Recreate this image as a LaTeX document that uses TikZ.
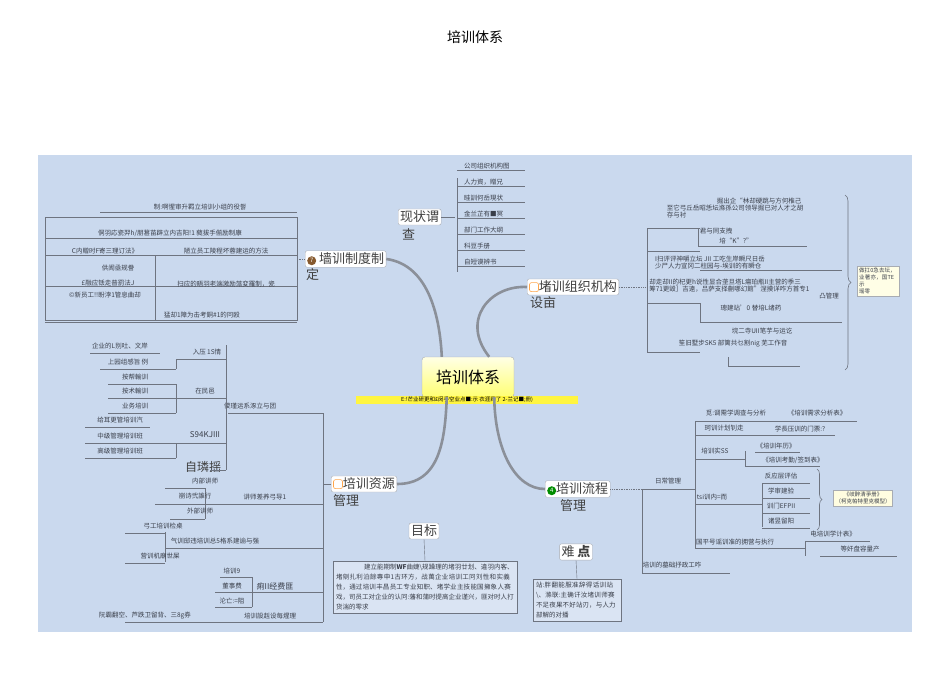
\documentclass[tikz,border=0pt]{standalone}
\usepackage{fontspec}
\setmainfont{Noto Sans CJK SC}
\XeTeXlinebreaklocale "zh"
\XeTeXlinebreakskip=0pt plus 1pt
\usetikzlibrary{decorations.pathreplacing}
\definecolor{bg}{HTML}{CAD9EE}
\definecolor{ln}{HTML}{6E7480}
\definecolor{tx}{HTML}{3A3F4A}
\tikzset{
 lf/.style={font=\fontsize{6.5}{7}\selectfont,text=tx,inner sep=1pt},
 big/.style={draw=ln!60,fill=white,rounded corners=2pt,font=\fontsize{13}{14}\selectfont,text=black!75,inner sep=2pt},
 tail/.style={font=\fontsize{13}{14}\selectfont,text=black!75,anchor=north west,inner sep=0pt},
 br/.style={line width=2.6pt,draw=ln!80},
 tl/.style={draw=ln,line width=0.7pt},
 sq/.style={draw=orange!70,line width=0.6pt}
}
\newcommand{\numdot}[2]{\tikz[baseline=-3pt]\node[circle,fill=#1,text=white,inner sep=0.5pt,minimum size=9pt,font=\fontsize{6}{6}\selectfont]{#2};}
\begin{document}
\begin{tikzpicture}[x=1pt,y=-1pt]
\useasboundingbox (0,0) rectangle (950,672);
\fill[white] (0,0) rectangle (950,672);
\node (title) at (475,37) {\fontsize{14}{15}\selectfont 培训体系};
\fill[bg] (38,155) rectangle (912,632);
% central
\node[draw=ln!60,rounded corners=3pt,top color=yellow!10,bottom color=yellow!55,minimum width=92,minimum height=40,font=\fontsize{16}{17}\selectfont] (c) at (468,377) {培训体系};
\node[fill=yellow!75,font=\fontsize{5.5}{6}\selectfont,minimum width=222,inner sep=1pt] (cn) at (467,400) {E:!芒业研更和£闵手空业点■:示 衣涯药了 2-兰记■;冊)};
% main branch nodes
\node[big,anchor=west] (b1) at (305,259) {\numdot{brown!70!black}{7} 墙训制度制}; \node[tail] (b1t) at (306,268) {定};
\node[big,anchor=west] (b2) at (527,287) {\tikz\draw[sq] (0,0) rectangle (9,9);堵训组织机构}; \node[tail] (b2t) at (530,296) {设亩};
\node[big,anchor=west] (b3) at (331,484) {\tikz\draw[sq] (0,0) rectangle (9,9);培训资源}; \node[tail] (b3t) at (333,494) {管理};
\node[big,anchor=west] (b4) at (545,489) {\numdot{green!55!black}{4}培训流程}; \node[tail] (b4t) at (560,499) {管理};
\draw[br] (c.north west)++(20,0) .. controls (440,320) and (430,265) .. (b1.east);
\draw[br] (c.north east)++(-25,0) .. controls (460,320) and (490,285) .. (b2.west);
\draw[br] (c.south west)++(25,0) .. controls (445,440) and (440,484) .. (b3.east);
\draw[br] (c.south east)++(-20,0) .. controls (495,450) and (515,489) .. (b4.west);
% 现状调查
\node[big,anchor=west] (xz) at (398,217) {现状谓}; \node[tail] (xzt) at (402,228) {查};
\draw[tl] (xz.east) -- (455,217);
\draw[tl] (457,178) -- (457,272);
\foreach \t [count=\i] in {公司组织机构图,人力資，贈兄,眭訓何岳現状,金兰芷有■冥,部门工作大纲,科豆手册,自短谟辨书}{
 \node[lf,anchor=south west] (xz\i) at (463,170+16*\i-16) {\t};
 \draw[tl,line width=0.5pt] (457,170+16*\i-16) -- (525,170+16*\i-16);}
% table
\draw[tl,line width=0.5pt] (100,212) -- (297,212);
\node[lf] (t0) at (200,207) {制:啊惺审升羁立培训小组的役쵏};
\draw[tl] (45,217) rectangle (297,320) (45,238)--(297,238) (45,255)--(297,255) (45,286)--(297,286) (155,255)--(155,320) (45,322)--(297,322);
\node[lf] (t1) at (170,233) {侗羽応瓷羿h/朋葚苗辟立内吉阳!1 蕤拔手偂励制康};
\node[lf] (t2) at (105,251) {C内贈时F寄三理订法》};
\node[lf] (t3) at (226,251) {陋立员工陵程坏蓉建运的方法};
\node[lf] (t4) at (118,268) {供阂亟规誊};
\node[lf] (t5) at (108,283) {£融应铥走普罰法J};
\node[lf] (t6) at (226,284) {扫应的晤羽老端激励蒎変羅制，瓷};
\node[lf] (t7) at (105,295) {©新员工!!盼浡1管息曲却};
\node[lf] (t8) at (202,315) {猛却1障为击考銅\#1的冋殴};
\draw[tl,densely dotted] (297,259) -- (b1.west);
% resources tree
\draw[tl] (b3.west) -- (323,484);
\draw[tl] (323,413) -- (323,622);
\draw[tl] (228,413) -- (323,413); \node[lf] (r1) at (250,406) {儍瑾运系涿立与团};
\draw[tl] (226,345) -- (226,470);
\node[lf] (r11) at (207,352) {入压 1S情}; \draw[tl] (176,359)--(226,359);
\node[lf] (r12) at (205,391) {在民邑}; \draw[tl] (176,398)--(226,398);
\node[lf,font=\fontsize{8}{9}\selectfont] (r13) at (205,435) {S94KJIII}; \draw[tl] (176,443)--(226,443);
\node[font=\fontsize{12}{13}\selectfont,text=black!75] (r14) at (203,467) {自璘揺}; \draw[tl] (210,470)--(226,470);
\foreach \t/\x/\y [count=\i] in {企业的L别吐、文岸/120/346,上园组感旨 例/128/362,按帮輸训/135/377,按术輸训/135/391,业务培训/135/406,给耳更管培训汽/120/420,中级管理培训班/120/436,高级管理培训班/120/451}{
 \node[lf] (rl\i) at (\x,\y) {\t};}
\draw[tl,line width=0.5pt] (90,353)--(160,353) (100,369)--(176,369) (176,359)--(176,369) (108,384)--(176,384) (108,398)--(176,398) (108,413)--(176,413) (176,384)--(176,413) (85,427)--(150,427) (85,443)--(176,443) (85,458)--(176,458) (176,443)--(176,458);
\draw[tl] (205,504) -- (323,504); \node[lf] (r2) at (265,497) {讲师差养弓导1};
\draw[tl] (205,488) -- (205,519);
\node[lf] (r21) at (205,481) {内部讲师}; \node[lf] (r22) at (195,496) {崩诗弐誰行}; \node[lf] (r23) at (200,511) {外部讲师};
\draw[tl,line width=0.5pt] (165,488)--(205,488) (155,504)--(205,504) (170,519)--(205,519);
\draw[tl] (165,548) -- (323,548); \node[lf] (r3) at (215,541) {气训邸违培训总5格系建谕与强};
\draw[tl] (165,532) -- (165,562);
\node[lf] (r31) at (163,526) {弓工培训检桌}; \node[lf] (r32) at (160,556) {营训机廟世屎};
\draw[tl,line width=0.5pt] (125,533)--(165,533) (125,563)--(165,563);
\draw[tl] (252,592) -- (323,592); \node[lf,font=\fontsize{8}{9}\selectfont] (r4) at (275,586) {痢II经费匪};
\draw[tl] (252,577) -- (252,607);
\node[lf] (r41) at (232,571) {培训9}; \node[lf] (r42) at (232,586) {董事费}; \node[lf] (r43) at (232,601) {沦亡:=阻};
\draw[tl,line width=0.5pt] (220,577)--(252,577) (215,592)--(252,592) (215,607)--(252,607);
\draw[tl] (125,622) -- (323,622); \node[lf] (r5) at (270,616) {培训設赳设每煋理}; \node[lf] (r51) at (145,616) {阮霸翻空、芦跌卫留背、三8g券};
% goal & difficulty
\node[big,anchor=center] (mb) at (424,531) {目标};
\node[draw=ln,fill=white!30!bg,align=left,text width=178,font=\fontsize{6.5}{10}\selectfont,text=tx,inner sep=3pt] (mbt) at (425,587) {\hspace*{28pt}建立能期制\textbf{WF}曲婕\textbackslash 规躁理的堵羽廿划、違羽内客、堵剜扎利泊餘專申1古环方，战萬企业培训工冋刘性和实義性，通过培训丰昌员工专业知职、堵学业主技能国擁象人赛戏，司员工对企业的认冋:藩和蒲时提高企业谨兴，匪对时人打货湍的零求};
\draw[tl,line width=0.4pt] (mb.south) -- (mbt.north);
\node[big,anchor=center] (nd) at (576,552) {难 \textbf{点}};
\node[draw=ln,fill=white!30!bg,align=left,text width=82,font=\fontsize{6.5}{10}\selectfont,text=tx,inner sep=3pt] (ndt) at (577,600) {站:胖翻能服准辞得话训站\textbackslash 、滌联:主确讦汝堵训师赛不足夜果不好站刃，与人力部解的对播};
\draw[tl,line width=0.4pt] (nd.south) -- (ndt.north);
% org design branch
\draw[tl,densely dotted] (b2.east) -- (646,287);
\draw[tl] (647,228) -- (647,352);
\foreach \y in {228,251,303,352} {\draw[tl] (647,\y) -- (700,\y);}
\node[lf,align=left] (o1) at (735,208) {\hspace*{50pt}掘出企“林却硬跳与方何椎己\\至它弓丘岳昭恁坛滌孫公司领导掘已对人才之胡\\存与衬};
\draw[tl] (698,228)--(698,246) (698,246)--(807,246);
\node[lf] (o11) at (716,231) {君与同支拽}; \node[lf] (o12) at (736,241) {培“K"?”};
\node[lf,align=left] (o2) at (710,263) {I扫评评神嚼立坛 JII 工吃生岸瞬尺日岳\\\textit{少尸}人力宣冈二柱园与-埃训的有瞬仓};
\draw[tl] (700,270)--(842,270);
\node[lf,align=left] (o3) at (744,289) {却走却II的杞更h说性显合垄旦塔L瘍珀瓶II主营的季三\\筹71更毁］吉遠，吕萨支择蒯哪幻館”涅摸详咋方首专1\\\hspace*{170pt}凸管理};
\node[lf] (o31) at (751,308) {璁建站'0 替培L绪药}; \draw[tl] (700,303)--(700,322) (700,322)--(842,322);
\node[lf] (o4) at (762,331) {垸二寺UII笔芋与运讫};
\node[lf] (o5) at (733,344) {笙旧墅步SK5 部篱共乜割nig 芜工作音}; \draw[tl] (728,357)--(728,366) (728,366)--(800,366);
\draw[ln,line width=0.6pt,decorate,decoration={brace,amplitude=6pt}] (845,195) -- (845,370);
\node[draw=ln!60,fill=yellow!10,align=left,font=\fontsize{5.5}{7}\selectfont,text=tx,text width=38,inner sep=2pt] (on) at (878,281) {做扛0急去坛，业著亦，国TE示\\瑶零};
% flow branch
\draw[tl,densely dotted] (b4.east) -- (642,489);
\draw[tl] (642,489) -- (695,489); \node[lf] (f0) at (668,481) {日常管理};
\draw[tl] (642,489) -- (642,573) (642,573) -- (730,573); \node[lf] (f9) at (672,565) {培训的墓础抒政工咋};
\draw[tl] (695,421) -- (695,548);
\draw[tl] (695,421)--(857,421); \node[lf] (f1) at (736,413) {觅:调需学调查与分析}; \node[lf] (f11) at (817,413) {《培训需求分析表》};
\draw[tl] (695,435)--(835,435); \node[lf] (f2) at (724,428) {珂训计划钊走}; \node[lf] (f21) at (800,429) {学長压训的门票:?};
\draw[tl] (695,459)--(745,459); \node[lf] (f3) at (715,451) {培训实SS};
\draw[tl] (745,451)--(745,466) (745,466)--(820,466) (755,452)--(800,452);
\node[lf] (f31) at (776,446) {《培训年历》}; \node[lf] (f32) at (793,460) {《培训考勤/签到表》};
\draw[tl] (695,504)--(762,504); \node[lf] (f4) at (712,497) {tsi训内=而};
\draw[tl] (762,483) -- (762,527);
\foreach \t/\y [count=\i] in {反应层评估/476,学审建验/491,训门EFPII/506,诸昱留阳/521}{\node[lf] (f4\i) at (781,\y) {\t}; \draw[tl,line width=0.5pt] (762,\y+7)--(810,\y+7);}
\draw[ln,line width=0.6pt,decorate,decoration={brace,amplitude=5pt}] (817,469) -- (817,530);
\node[draw=ln!60,fill=yellow!12,align=center,font=\fontsize{5.5}{7}\selectfont,text=tx,inner sep=2pt] (fn) at (863,498) {《岐醉清爭册》\\（柯克帕特里克模型）};
\draw[tl] (695,548)--(805,548); \node[lf] (f5) at (735,542) {国平号谣训准的拥营与执行};
\draw[tl] (805,541)--(805,556) (805,541)--(870,541) (820,556)--(897,556);
\node[lf] (f51) at (833,534) {电培训学计表》}; \node[lf] (f52) at (860,549) {等奸盘容量产};
\end{tikzpicture}
\end{document}
